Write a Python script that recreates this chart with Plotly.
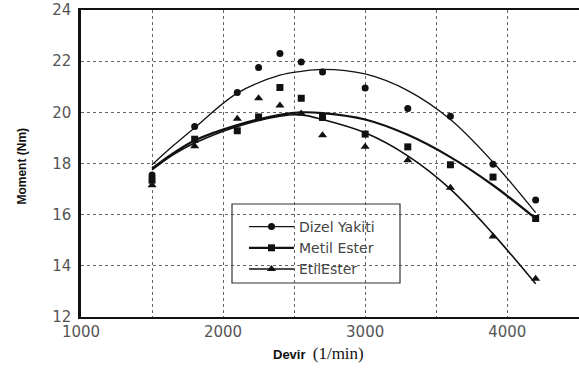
import plotly.graph_objects as go

# Measured data points
rpm = [1500, 1800, 2100, 2250, 2400, 2550, 2700, 3000, 3300, 3600, 3900, 4200]
dizel = [17.55, 19.45, 20.78, 21.75, 22.3, 21.97, 21.58, 20.95, 20.15, 19.85, 17.97, 16.57]
metil = [17.35, 18.95, 19.28, 19.82, 20.97, 20.55, 19.8, 19.15, 18.65, 17.95, 17.47, 15.85]
etil = [17.15, 18.67, 19.75, 20.55, 20.27, 19.95, 19.1, 18.65, 18.13, 17.05, 15.15, 13.5]

# Fitted trend curves
curve_rpm = [1500, 1650, 1800, 2100, 2400, 2550, 2700, 3000, 3300, 3600, 3900, 4200]
dizel_fit = [17.95, 18.7, 19.4, 20.75, 21.45, 21.6, 21.68, 21.5, 20.85, 19.72, 18.05, 16.08]
metil_fit = [17.8, 18.4, 18.9, 19.5, 19.9, 20.0, 19.97, 19.72, 19.12, 18.25, 17.15, 15.85]
etil_fit = [17.75, 18.35, 18.8, 19.45, 19.85, 19.9, 19.72, 19.2, 18.3, 17.0, 15.25, 13.3]

names = ["Dizel Yakiti", "Metil Ester", "EtilEster"]
x_tickvals = [1000, 1500, 2000, 2500, 3000, 3500, 4000, 4500]
x_ticktext = ["1000", "", "2000", "", "3000", "", "4000", ""]
y_tickvals = [12, 14, 16, 18, 20, 22, 24]

series = [
    (names[0], dizel, dizel_fit, "circle", 7, 1.3),
    (names[1], metil, metil_fit, "square", 7, 2.2),
    (names[2], etil, etil_fit, "triangle-up", 8, 1.6),
]

fig = go.Figure()
for name, vals, fit, sym, size, lw in series:
    fig.add_trace(go.Scatter(x=curve_rpm, y=fit, mode="lines",
                             line=dict(color="#111", width=lw, shape="spline", smoothing=1.0),
                             showlegend=False, hoverinfo="skip"))
    fig.add_trace(go.Scatter(x=rpm, y=vals, mode="markers", marker=dict(symbol=sym, size=size, color="#111"),
                             showlegend=False, name=name))
for name, vals, fit, sym, size, lw in series:
    fig.add_trace(go.Scatter(x=[None], y=[None], mode="lines+markers", name=name,
                             line=dict(color="#111", width=lw),
                             marker=dict(symbol=sym, size=size, color="#111")))

fig.update_layout(
    width=579, height=374,
    margin=dict(l=81, r=0, t=10, b=57),
    paper_bgcolor="white", plot_bgcolor="white",
    font=dict(family="DejaVu Sans", color="#555"),
    legend=dict(x=(244 - 81) / 498, y=(317 - 211) / 307, xanchor="left", yanchor="top",
                bgcolor="rgba(0,0,0,0)",
                font=dict(family="DejaVu Sans", size=14, color="#444"), itemwidth=45,
                tracegroupgap=0),
    xaxis=dict(range=[1000, 4505], tickvals=x_tickvals, ticktext=x_ticktext, automargin=False,
               showgrid=True, gridcolor="#666", griddash="dot", gridwidth=1,
               showline=True, linecolor="#111", linewidth=2, mirror=True,
               ticks="", tickfont=dict(size=15, color="#555"), zeroline=False),
    yaxis=dict(range=[12, 24], tickvals=y_tickvals, automargin=False,
               showgrid=True, gridcolor="#666", griddash="dot", gridwidth=1,
               showline=True, linecolor="#111", linewidth=2.5, mirror=False,
               ticks="", ticklabelstandoff=4, tickfont=dict(size=15, color="#555"), zeroline=False),
    shapes=[dict(type="rect", xref="paper", yref="paper",
                 x0=(232 - 81) / 498, x1=(400 - 81) / 498,
                 y0=(317 - 283) / 307, y1=(317 - 204) / 307,
                 line=dict(color="#333", width=1.2), fillcolor="rgba(0,0,0,0)")],
    annotations=[
        dict(text="<b>Moment (Nm)</b>", xref="paper", yref="paper", x=0, y=0.49, xshift=-59,
             textangle=-90, showarrow=False, font=dict(family="Liberation Sans", size=12, color="#111"),
             xanchor="center", yanchor="middle"),
        dict(text="<b>Devir</b>  <span style=\"font-family:'Liberation Serif';font-size:17px\">(1/min)</span>",
             xref="paper", yref="paper", x=(318 - 81) / 498, y=(317 - 353) / 307,
             showarrow=False, font=dict(family="Liberation Sans", size=13, color="#111"),
             xanchor="center", yanchor="middle"),
    ],
)

fig.write_html("out.html", config={"displayModeBar": False},
               post_script="document.body.style.margin='0';document.body.style.overflow='hidden';")
